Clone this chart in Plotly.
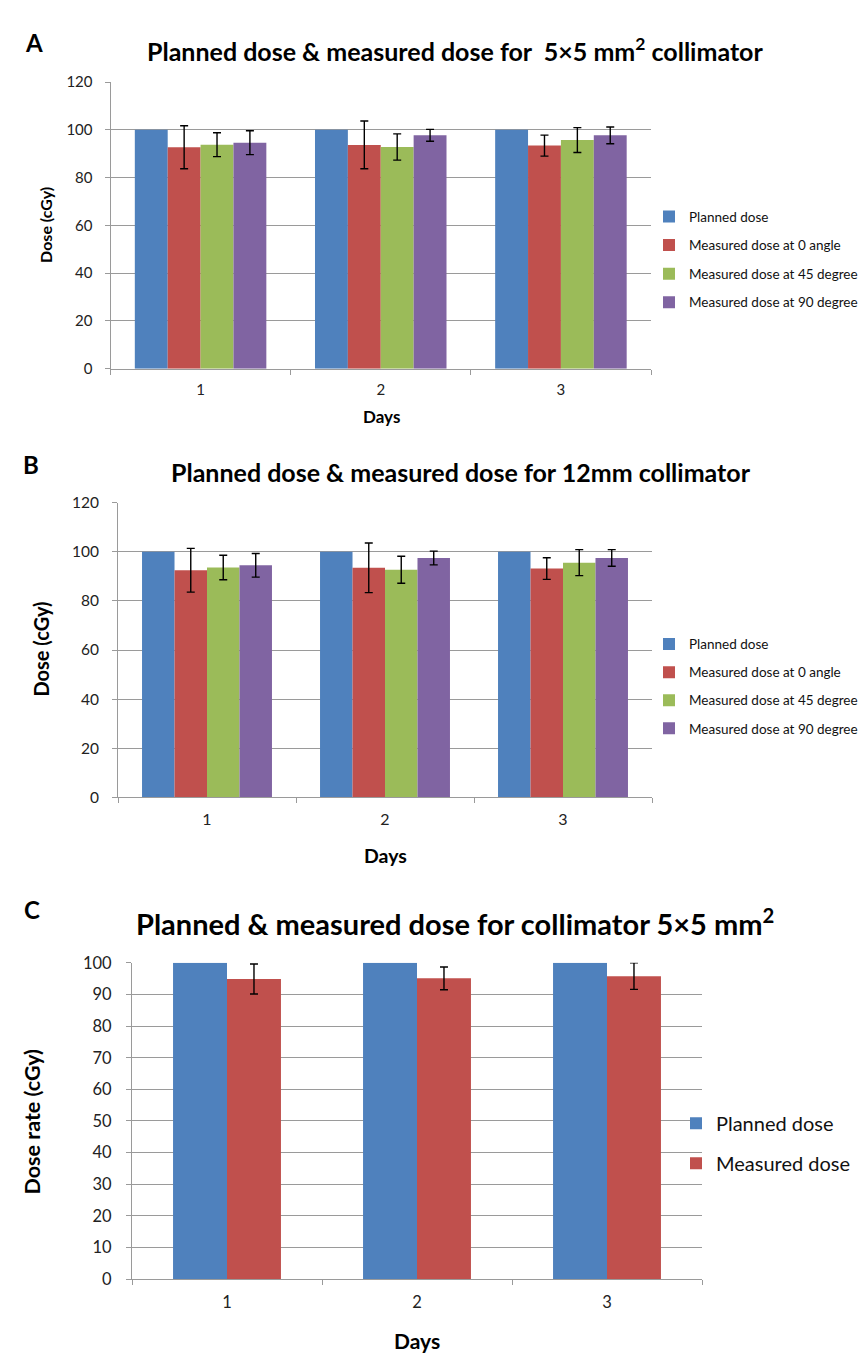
import plotly.graph_objects as go

days = ["1", "2", "3"]

# Panel A: 5x5 mm2 collimator
a_planned = [100, 100, 100]
a_m0 = [92.7, 93.7, 93.4]
a_m0_err = [9.0, 10.0, 4.4]
a_m45 = [93.8, 92.8, 95.7]
a_m45_err = [5.0, 5.5, 5.2]
a_m90 = [94.6, 97.7, 97.7]
a_m90_err = [5.0, 2.5, 3.5]

# Panel B: 12 mm collimator
b_planned = [100, 100, 100]
b_m0 = [92.5, 93.5, 93.2]
b_m0_err = [8.9, 10.1, 4.4]
b_m45 = [93.6, 92.7, 95.6]
b_m45_err = [5.0, 5.5, 5.3]
b_m90 = [94.5, 97.5, 97.5]
b_m90_err = [4.8, 2.8, 3.4]

# Panel C: collimator 5x5 mm2
c_planned = [100, 100, 100]
c_measured = [94.9, 95.1, 95.8]
c_measured_err = [4.75, 3.6, 4.2]

BLUE, RED, GREEN, PURPLE = "#4F81BD", "#C0504D", "#9BBB59", "#8064A2"
W, H = 866, 1355
CAL = "Lato, 'Open Sans', sans-serif"

def px(x):
    return x / W

def py(y):
    return 1 - y / H

fig = go.Figure()

def err(vals):
    return dict(type="data", array=vals, visible=True, color="black", thickness=1.4, width=4)

names4 = ["Planned dose", "Measured dose at 0 angle", "Measured dose at 45 degree", "Measured dose at 90 degree"]
colors4 = [BLUE, RED, GREEN, PURPLE]

for (vals, errs, nm, col) in zip([a_planned, a_m0, a_m45, a_m90], [None, a_m0_err, a_m45_err, a_m90_err], names4, colors4):
    fig.add_trace(go.Bar(x=days, y=vals, name=nm, marker=dict(color=col, line=dict(width=0)),
                         error_y=err(errs) if errs else None, xaxis="x", yaxis="y",
                         legend="legend", legendgroup="a" + nm))

for (vals, errs, nm, col) in zip([b_planned, b_m0, b_m45, b_m90], [None, b_m0_err, b_m45_err, b_m90_err], names4, colors4):
    fig.add_trace(go.Bar(x=days, y=vals, name=nm, marker=dict(color=col, line=dict(width=0)),
                         error_y=err(errs) if errs else None, xaxis="x2", yaxis="y2",
                         legend="legend2", legendgroup="b" + nm))

fig.add_trace(go.Bar(x=days, y=c_planned, name="Planned dose", marker=dict(color=BLUE, line=dict(width=0)),
                     width=0.284, offset=-0.284, xaxis="x3", yaxis="y3", legend="legend3", legendgroup="c1"))
fig.add_trace(go.Bar(x=days, y=c_measured, name="Measured dose", marker=dict(color=RED, line=dict(width=0)),
                     error_y=err(c_measured_err), width=0.284, offset=0,
                     xaxis="x3", yaxis="y3", legend="legend3", legendgroup="c2"))

GRID = "#9a9a9a"

def yax(dom, rng, dtick, fs, so):
    return dict(domain=dom, range=rng, dtick=dtick, showgrid=True, gridcolor=GRID, gridwidth=1,
                showline=True, linecolor=GRID, linewidth=1, ticks="outside", ticklen=5, tickcolor=GRID,
                ticklabelstandoff=so,
                tickfont=dict(family=CAL, size=fs, color="#222"), zeroline=False, fixedrange=True)

def xax(dom, anchor, fs, so):
    return dict(domain=dom, anchor=anchor, type="category", showline=True, linecolor=GRID, linewidth=1,
                ticks="outside", ticklen=5, tickcolor=GRID, tickson="boundaries", ticklabelstandoff=so,
                tickfont=dict(family=CAL, size=fs, color="#222"), showgrid=False, fixedrange=True)

fig.update_layout(
    width=W, height=H, margin=dict(l=0, r=0, t=0, b=0),
    paper_bgcolor="white", plot_bgcolor="white",
    barmode="group", bargap=0.27, bargroupgap=0,
    xaxis=xax([px(102.5), px(643)], "y", 15, 7),
    yaxis=dict(**yax([py(356), py(65)], [0, 120], 20, 15, 9), anchor="x"),
    xaxis2=xax([px(110), px(644)], "y2", 16, 7),
    yaxis2=dict(**yax([py(791), py(492)], [0, 120], 20, 15.5, 10), anchor="x2"),
    xaxis3=xax([px(124), px(694)], "y3", 16.5, 8),
    yaxis3=dict(**yax([py(1280), py(959)], [0, 100], 10, 16.5, 11), anchor="x3"),
    legend=dict(x=px(641), y=py(186), xanchor="left", yanchor="top", font=dict(family=CAL, size=13.5, color="#111"),
                tracegroupgap=8, traceorder="grouped", itemwidth=30, bgcolor="rgba(0,0,0,0)"),
    legend2=dict(x=px(641), y=py(620), xanchor="left", yanchor="top", font=dict(family=CAL, size=13.5, color="#111"),
                 tracegroupgap=7.5, traceorder="grouped", itemwidth=30, bgcolor="rgba(0,0,0,0)"),
    legend3=dict(x=px(668), y=py(1102), xanchor="left", yanchor="top", font=dict(family=CAL, size=20, color="#111"),
                 tracegroupgap=11, traceorder="grouped", itemwidth=30, bgcolor="rgba(0,0,0,0)"),
    showlegend=True,
)

ann = []
def text(x, y, s, size, bold=True, rot=0, family=CAL, xanchor="center"):
    ann.append(dict(x=px(x), y=py(y), xref="paper", yref="paper", text=("<b>%s</b>" % s) if bold else s,
                    showarrow=False, font=dict(family=family, size=size, color="black"),
                    xanchor=xanchor, yanchor="middle", textangle=rot))

text(26, 25, "A", 24)
text(447, 32, "Planned dose &amp; measured dose for  5×5 mm<sup>2</sup> collimator", 25)
text(38, 210, "Dose (cGy)", 16, rot=-90)
text(373, 404, "Days", 17)

text(23, 453, "B", 24)
text(453, 461, "Planned dose &amp; measured dose for 12mm collimator", 25)
text(33, 641, "Dose (cGy)", 20, rot=-90)
text(377, 850, "Days", 19.5)

text(24, 905, "C", 24)
text(447, 918, "Planned &amp; measured dose for collimator 5×5 mm<sup>2</sup>", 29)
text(24, 1120, "Dose rate (cGy)", 21.5, rot=-90)
text(409, 1342, "Days", 21)

fig.update_layout(annotations=ann)
fig.write_html("out.html")
